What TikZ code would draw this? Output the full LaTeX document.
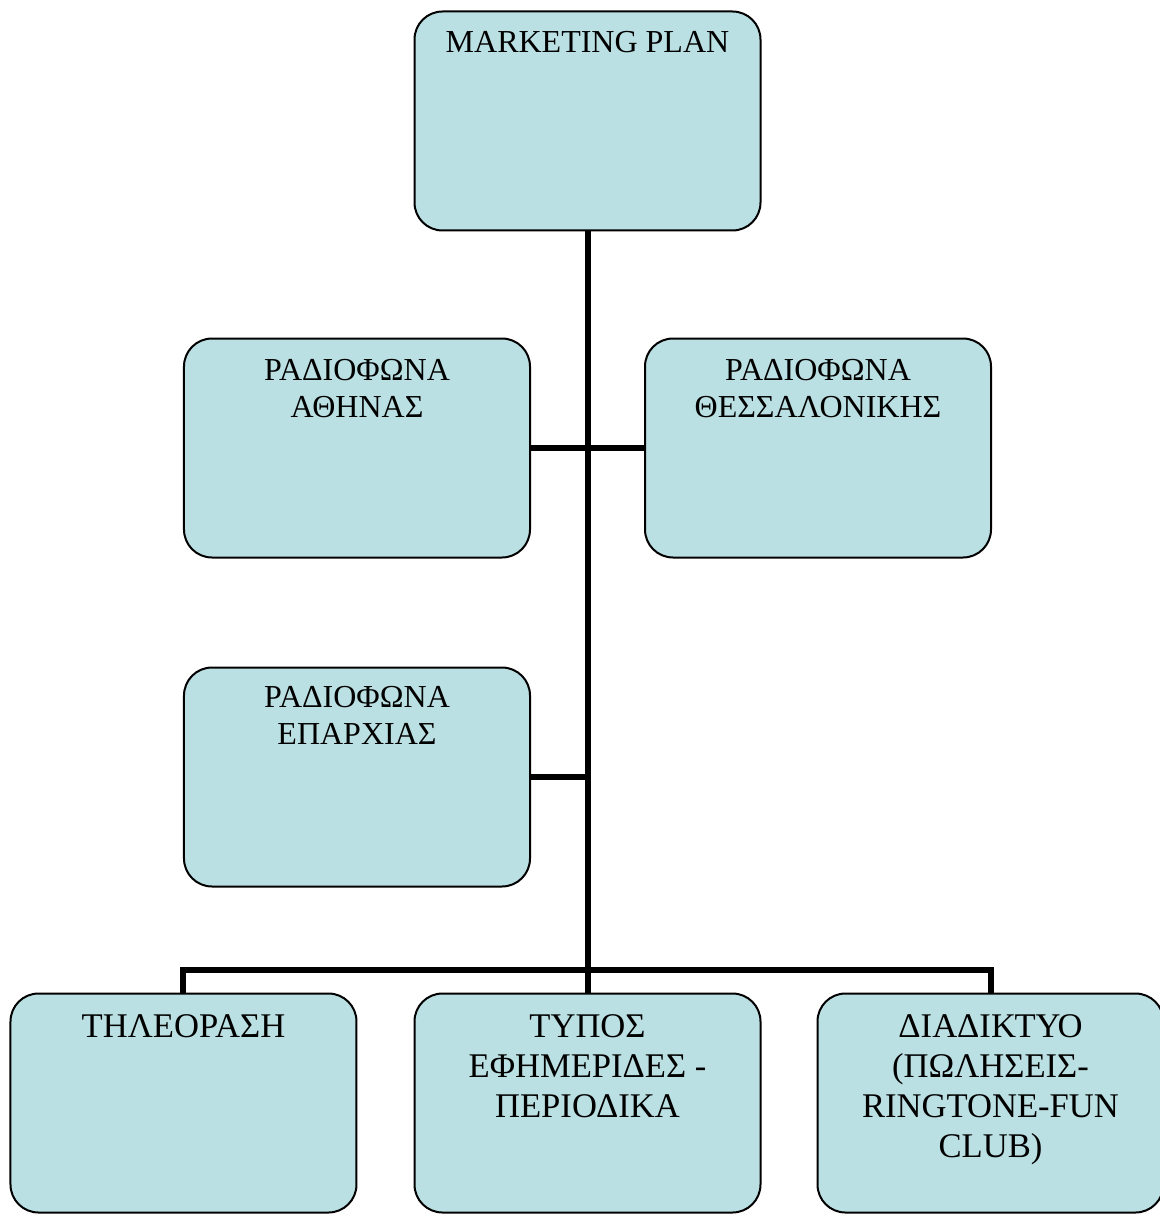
\documentclass[tikz,border=0pt]{standalone}
\usepackage{fontspec}
\setmainfont{Liberation Serif}
\usetikzlibrary{positioning,calc}
\definecolor{boxfill}{RGB}{187,224,227}
% box text: first baseline, then lines, set at the top of the box
\newcommand{\boxtxt}[2]{\parbox[c][109.5pt][t]{173pt}{\centering\rule{0pt}{#1}#2}}
\tikzset{
  unit/.style ={draw, line width=1pt, rounded corners=14pt, fill=boxfill, inner sep=0pt, outer sep=0pt, font=\fontsize{16}{18.5}\selectfont},
  media/.style={unit, font=\fontsize{17.3}{20}\selectfont},
  conn/.style ={line width=3pt},
}
\begin{document}
\begin{tikzpicture}
  \useasboundingbox (-293.75pt,60.5pt) rectangle (286.25pt,-546.5pt);
  \node[unit] (mkt) {\boxtxt{20.5pt}{MARKETING PLAN}};
  \node[unit, below=54pt of mkt, xshift=-115.25pt] (ath) {\boxtxt{21pt}{ΡΑΔΙΟΦΩΝΑ\\ΑΘΗΝΑΣ}};
  \node[unit, right=57.5pt of ath] (thes) {\boxtxt{21pt}{ΡΑΔΙΟΦΩΝΑ\\ΘΕΣΣΑΛΟΝΙΚΗΣ}};
  \node[unit, below=55pt of ath] (epar) {\boxtxt{20pt}{ΡΑΔΙΟΦΩΝΑ\\ΕΠΑΡΧΙΑΣ}};
  \node[media, below=53.5pt of epar, xshift=-86.75pt] (tv) {\boxtxt{22pt}{ΤΗΛΕΟΡΑΣΗ}};
  \node[media, right=29pt of tv] (press) {\boxtxt{22pt}{ΤΥΠΟΣ\\ΕΦΗΜΕΡΙΔΕΣ -\\ΠΕΡΙΟΔΙΚΑ}};
  \node[media, right=28.5pt of press] (web) {\boxtxt{22pt}{ΔΙΑΔΙΚΤΥΟ\\(ΠΩΛΗΣΕΙΣ-\\RINGTONE-FUN\\CLUB)}};
  \coordinate (bar) at ([yshift=12pt]press.north);
  \draw[conn] (mkt.south) -- (press.north);
  \draw[conn] (ath.east) -- (thes.west);
  \draw[conn] (epar.east) -- (epar.east -| mkt.south);
  \draw[conn] (tv.north) |- (bar) -| (web.north);
\end{tikzpicture}
\end{document}
